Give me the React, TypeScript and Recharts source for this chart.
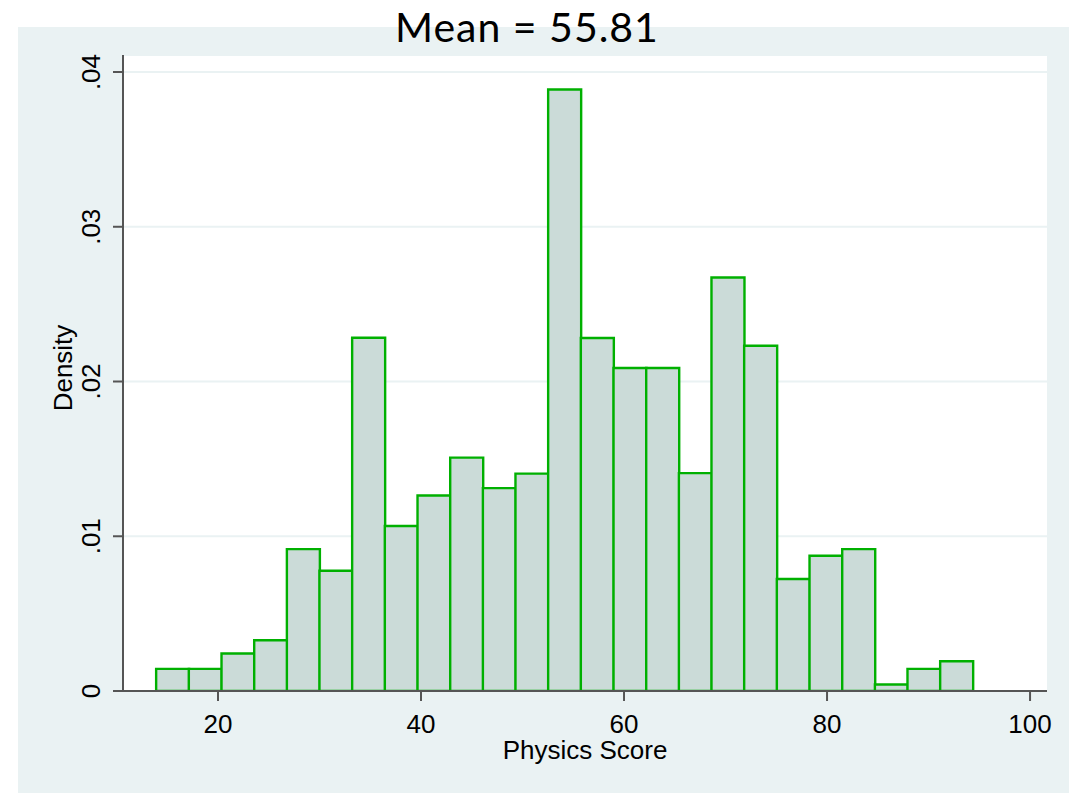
import { ComposedChart, Bar, XAxis, YAxis, CartesianGrid, Label } from "recharts";

// histogram bins (midpoints) and their densities
const binMids = [
  15.51, 18.73, 21.95, 25.17, 28.39, 31.6, 34.82, 38.04, 41.26, 44.48, 47.7, 50.91, 54.13,
  57.35, 60.57, 63.79, 67.01, 70.22, 73.44, 76.66, 79.88, 83.1, 86.32, 89.53, 92.75,
];
const densities = [
  0.00143, 0.00143, 0.00242, 0.00328, 0.00917, 0.00777, 0.02283, 0.01066, 0.01263, 0.01508,
  0.01311, 0.01405, 0.03887, 0.02281, 0.02087, 0.02087, 0.01408, 0.02672, 0.02231, 0.00724,
  0.00874, 0.00917, 0.00042, 0.00143, 0.00192,
];
const xTicks = [20, 40, 60, 80, 100];
const yTicks = [0, 0.01, 0.02, 0.03, 0.04];
const xDomain = [10.64, 101.67];
const yDomain = [0, 0.0411];
const title = "Mean = 55.81";
const xTitle = "Physics Score";
const yTitle = "Density";

const data = binMids.map((mid, i) => ({ mid, density: densities[i] }));

const BG = "#eaf2f3";
const AXIS = "#555555";
const FONT = '"Liberation Sans", Arial, sans-serif';

function fmtY(v: number) {
  return v === 0 ? "0" : v.toFixed(2).replace(/^0/, "");
}

function YTick(props: any) {
  const { x, y, payload } = props;
  const bx = x - 13;
  return (
    <text
      x={bx}
      y={y}
      transform={`rotate(-90, ${bx}, ${y})`}
      textAnchor="middle"
      fontSize={26}
      fontFamily={FONT}
      fill="#000"
    >
      {fmtY(payload.value)}
    </text>
  );
}

function XTick(props: any) {
  const { x, y, payload } = props;
  return (
    <text x={x} y={y + 32} textAnchor="middle" fontSize={26} fontFamily={FONT} fill="#000">
      {payload.value}
    </text>
  );
}

export default function App() {
  return (
    <div style={{ position: "absolute", left: 0, top: 0, width: 1069, height: 793, background: "#fff" }}>
      <style>{"body{margin:0}"}</style>
      <div style={{ position: "absolute", left: 18, top: 27, width: 1051, height: 766, background: BG }} />
      <div
        style={{
          position: "absolute",
          left: 395,
          top: 6,
          fontFamily: "Lato, sans-serif",
          fontSize: 41,
          lineHeight: "41px",
          letterSpacing: 1,
          color: "#000",
          whiteSpace: "nowrap",
        }}
      >
        {title}
      </div>
      <div style={{ position: "absolute", left: 0, top: 0 }}>
        <ComposedChart
          width={1069}
          height={793}
          data={data}
          margin={{ top: 55, right: 22, bottom: 0, left: 0 }}
          barCategoryGap={0}
          barGap={0}
        >
          <CartesianGrid fill="#fff" vertical={false} stroke={BG} strokeWidth={2} />
          <XAxis
            type="number"
            dataKey="mid"
            domain={xDomain}
            ticks={xTicks}
            allowDataOverflow
            height={102}
            tickSize={10}
            tickMargin={0}
            tick={<XTick />}
            stroke={AXIS}
            strokeWidth={2}
          >
            <Label
              content={(p: any) => {
                const vb = p.viewBox;
                return (
                  <text
                    x={vb.x + vb.width / 2}
                    y={vb.y + 68}
                    textAnchor="middle"
                    fontSize={26}
                    fontFamily={FONT}
                    fill="#000"
                  >
                    {xTitle}
                  </text>
                );
              }}
            />
          </XAxis>
          <YAxis
            type="number"
            domain={yDomain}
            ticks={yTicks}
            allowDataOverflow
            width={123}
            tickSize={10}
            tickMargin={0}
            tick={<YTick />}
            stroke={AXIS}
            strokeWidth={2}
          >
            <Label
              content={(p: any) => {
                const vb = p.viewBox;
                const cx = vb.x + 72;
                const cy = vb.y + vb.height / 2 - 5;
                return (
                  <text
                    x={cx}
                    y={cy}
                    transform={`rotate(-90, ${cx}, ${cy})`}
                    textAnchor="middle"
                    fontSize={26}
                    fontFamily={FONT}
                    fill="#000"
                  >
                    {yTitle}
                  </text>
                );
              }}
            />
          </YAxis>
          <Bar
            dataKey="density"
            fill="#cbdbd8"
            stroke="#00b000"
            strokeWidth={2.4}
            isAnimationActive={false}
          />
        </ComposedChart>
      </div>
    </div>
  );
}
